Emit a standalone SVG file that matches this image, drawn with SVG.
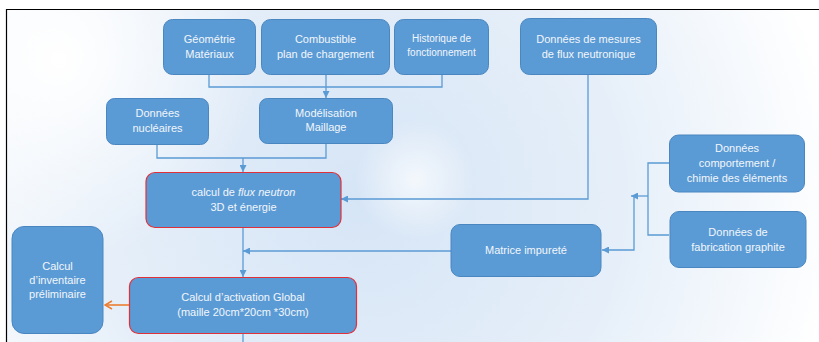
<svg xmlns="http://www.w3.org/2000/svg" width="819" height="342" viewBox="0 0 819 342">
<defs>
<radialGradient id="bg" cx="360" cy="200" r="480" gradientUnits="userSpaceOnUse">
<stop offset="0" stop-color="#D6E5F6"/>
<stop offset="0.55" stop-color="#E6EFF9"/>
<stop offset="1" stop-color="#FFFFFF"/>
</radialGradient>
<radialGradient id="hl" cx="60" cy="60" r="200" gradientUnits="userSpaceOnUse">
<stop offset="0" stop-color="#FFFFFF" stop-opacity="1"/>
<stop offset="1" stop-color="#FFFFFF" stop-opacity="0"/>
</radialGradient>
<radialGradient id="hl2" cx="415" cy="180" r="60" gradientUnits="userSpaceOnUse">
<stop offset="0" stop-color="#FFFFFF" stop-opacity="0.7"/>
<stop offset="1" stop-color="#FFFFFF" stop-opacity="0"/>
</radialGradient>
<marker id="arr" viewBox="0 0 10 10" refX="10" refY="5" markerWidth="7" markerHeight="7" orient="auto" markerUnits="userSpaceOnUse">
<path d="M0,0 L10,5 L0,10 z" fill="#5B9BD5"/>
</marker>
<marker id="arrO" viewBox="0 0 10 10" refX="9" refY="5" markerWidth="10" markerHeight="10" orient="auto" markerUnits="userSpaceOnUse">
<path d="M2,1 L9,5 L2,9" fill="none" stroke="#ED7D31" stroke-width="1.6"/>
</marker>
</defs>
<style>
.box{fill:#5B9BD5;stroke:#4A86C0;stroke-width:1}
.red{fill:#5B9BD5;stroke:#E0313B;stroke-width:1.2}
.t{font-family:"Liberation Sans",Arial,sans-serif;font-size:11px;fill:#F2F6FB;text-anchor:middle}
.s{font-size:10px}
.c{fill:none;stroke:#5B9BD5;stroke-width:1.3}
</style>
<rect x="0" y="0" width="819" height="342" fill="#FFFFFF"/>
<rect x="6" y="9" width="813" height="333" fill="url(#bg)"/>
<rect x="6" y="9" width="813" height="333" fill="url(#hl)"/>
<rect x="6" y="9" width="813" height="333" fill="url(#hl2)"/>
<path d="M6.5,342 V9.5 H819" fill="none" stroke="#000" stroke-width="1.2"/>

<g id="connectors">
<path class="c" d="M209,74 V87 H442 V74"/>
<path class="c" d="M326,74 V98" marker-end="url(#arr)"/>
<path class="c" d="M157,144 V158 H326 V143"/>
<path class="c" d="M243,158 V172" marker-end="url(#arr)"/>
<path class="c" d="M588,74 V199 H341" marker-end="url(#arr)"/>
<path class="c" d="M243,227 V277" marker-end="url(#arr)"/>
<path class="c" d="M451,251 H243" marker-end="url(#arr)"/>
<path class="c" d="M669,163 H648 V235 H669"/>
<path class="c" d="M648,196 H631" marker-end="url(#arr)"/>
<path class="c" d="M634,196 V250 H602" marker-end="url(#arr)"/>
<path class="c" d="M243,333 V342"/>
<path d="M129,305 H105" fill="none" stroke="#ED7D31" stroke-width="1.6" marker-end="url(#arrO)"/>
</g>

<g id="geometrie">
<rect class="box" x="163.5" y="19.5" width="92" height="55" rx="9"/>
<text class="t" x="209.5" y="43">Géométrie</text>
<text class="t" x="209.5" y="58">Matériaux</text>
</g>
<g id="combustible">
<rect class="box" x="261.5" y="19.5" width="128" height="55" rx="9"/>
<text class="t" x="325.5" y="43">Combustible</text>
<text class="t" x="325.5" y="58">plan de chargement</text>
</g>
<g id="historique">
<rect class="box" x="394.5" y="19.5" width="94" height="55" rx="9"/>
<text class="t s" x="441.5" y="42">Historique de</text>
<text class="t s" x="441.5" y="56">fonctionnement</text>
</g>
<g id="mesures">
<rect class="box" x="520.5" y="18.5" width="136" height="56" rx="9"/>
<text class="t" x="588.5" y="43">Données de mesures</text>
<text class="t" x="588.5" y="58">de flux neutronique</text>
</g>
<g id="nucleaires">
<rect class="box" x="106.5" y="98.5" width="102" height="46" rx="8"/>
<text class="t" x="157.5" y="117">Données</text>
<text class="t" x="157.5" y="132">nucléaires</text>
</g>
<g id="modelisation">
<rect class="box" x="259.5" y="98.5" width="133" height="45" rx="8"/>
<text class="t" x="326" y="117">Modélisation</text>
<text class="t" x="326" y="131">Maillage</text>
</g>
<g id="flux">
<rect class="red" x="146" y="172.5" width="195" height="55" rx="9"/>
<text class="t" x="243.5" y="196">calcul de <tspan font-style="italic">flux neutron</tspan></text>
<text class="t" x="243.5" y="211">3D et énergie</text>
</g>
<g id="inventaire">
<rect class="box" x="12" y="226.5" width="91" height="107" rx="12"/>
<text class="t" x="57.5" y="270">Calcul</text>
<text class="t" x="57.5" y="284">d’inventaire</text>
<text class="t" x="57.5" y="298">préliminaire</text>
</g>
<g id="activation">
<rect class="red" x="129.5" y="277.5" width="227" height="56" rx="9"/>
<text class="t" x="243" y="301">Calcul d’activation Global</text>
<text class="t" x="243" y="316">(maille 20cm*20cm *30cm)</text>
</g>
<g id="matrice">
<rect class="box" x="451" y="224.5" width="150" height="52" rx="9"/>
<text class="t" x="526" y="254">Matrice impureté</text>
</g>
<g id="comportement">
<rect class="box" x="669.5" y="135" width="135" height="57" rx="9"/>
<text class="t" x="737" y="152">Données</text>
<text class="t" x="737" y="167">comportement /</text>
<text class="t" x="737" y="182">chimie des éléments</text>
</g>
<g id="fabrication">
<rect class="box" x="670" y="211.5" width="136" height="56" rx="9"/>
<text class="t" x="738" y="236">Données de</text>
<text class="t" x="738" y="251">fabrication graphite</text>
</g>
</svg>
